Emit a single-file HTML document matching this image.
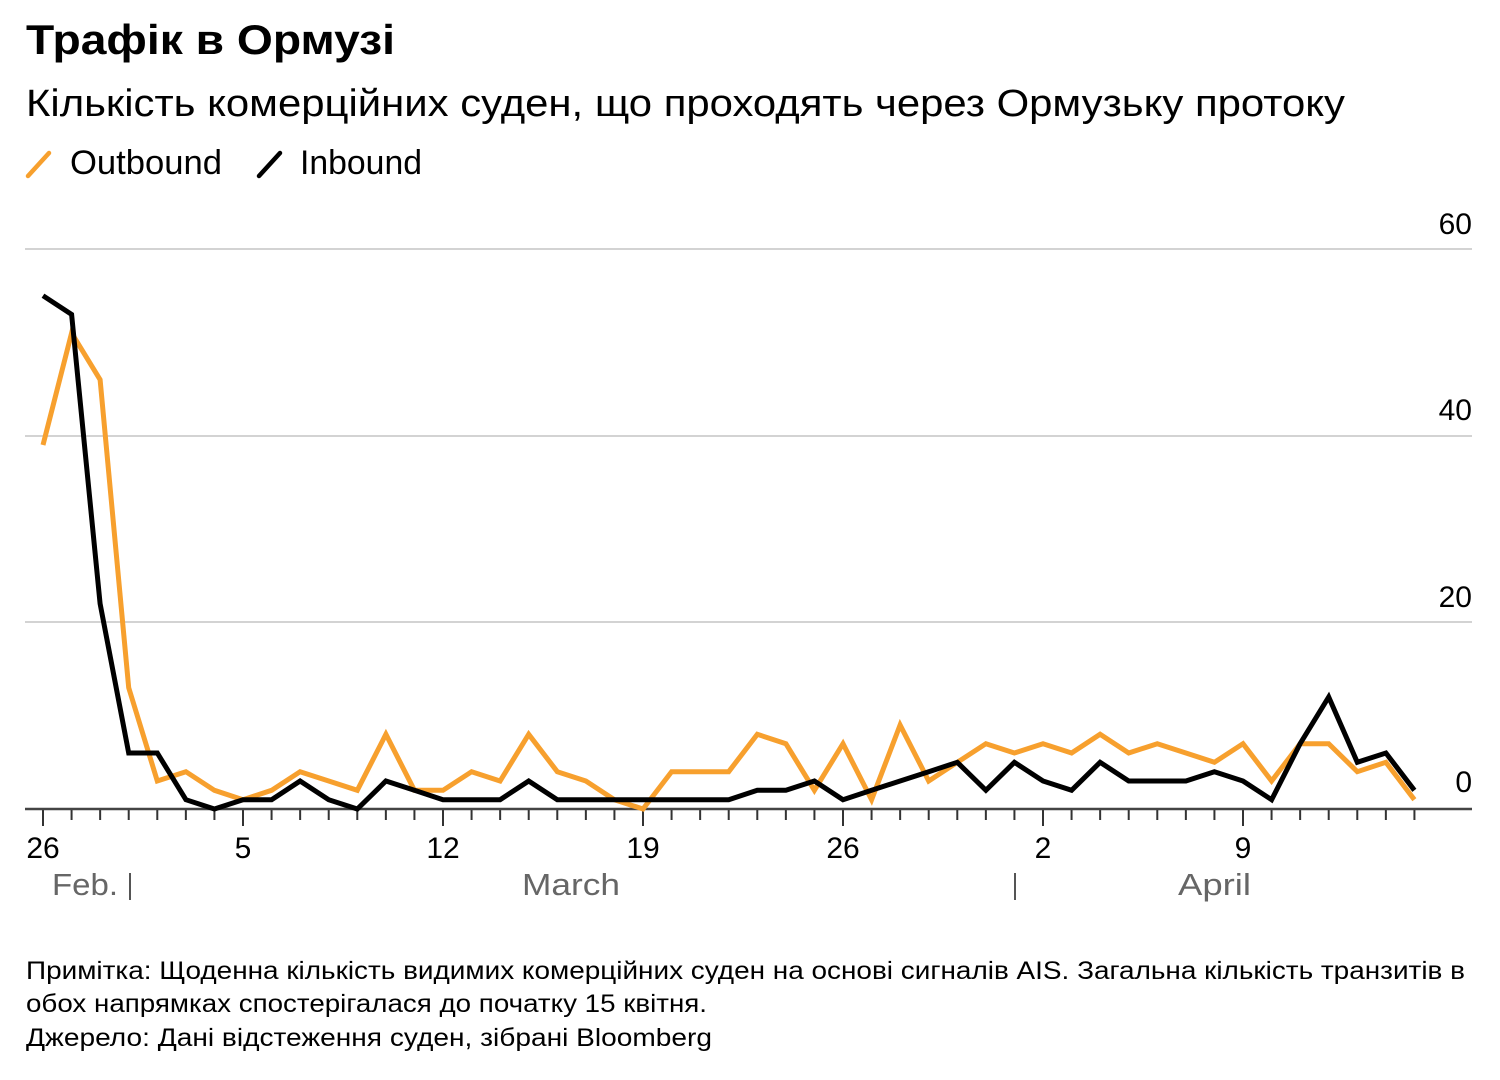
<!DOCTYPE html>
<html><head><meta charset="utf-8"><style>
body{margin:0;background:#fff;width:1500px;height:1075px;overflow:hidden;font-family:"Liberation Sans","DejaVu Sans",sans-serif;}
svg text{font-family:"Liberation Sans","DejaVu Sans",sans-serif;}
</style></head><body>
<svg id="s" width="1500" height="1075" xmlns="http://www.w3.org/2000/svg">
<text x="26" y="54" font-size="42" font-weight="bold" fill="#000" textLength="369" lengthAdjust="spacingAndGlyphs">Трафік в Ормузі</text>
<text x="26" y="116" font-size="38" fill="#000" textLength="1319" lengthAdjust="spacingAndGlyphs">Кількість комерційних суден, що проходять через Ормузьку протоку</text>
<line x1="28" y1="176" x2="49" y2="153" stroke="#f7a02e" stroke-width="4.5" stroke-linecap="round"/>
<text x="70" y="174" font-size="34" fill="#000" textLength="152" lengthAdjust="spacingAndGlyphs">Outbound</text>
<line x1="259" y1="176" x2="280" y2="153" stroke="#000" stroke-width="4.5" stroke-linecap="round"/>
<text x="300" y="174" font-size="34" fill="#000" textLength="122" lengthAdjust="spacingAndGlyphs">Inbound</text>
<g stroke="#d3d3d3" stroke-width="2">
<line x1="25" y1="249" x2="1472" y2="249"/>
<line x1="25" y1="436" x2="1472" y2="436"/>
<line x1="25" y1="622" x2="1472" y2="622"/>
</g>
<g font-size="30" fill="#000" text-anchor="end">
<text x="1472" y="234">60</text>
<text x="1472" y="420">40</text>
<text x="1472" y="607">20</text>
<text x="1472" y="792">0</text>
</g>
<g id="ticks" stroke="#333" stroke-width="2"></g>
<line x1="25" y1="809" x2="1472" y2="809" stroke="#444" stroke-width="2.5"/>
<g font-size="30" fill="#000" text-anchor="middle">
<text x="43" y="858">26</text>
<text x="243" y="858">5</text>
<text x="443" y="858">12</text>
<text x="643" y="858">19</text>
<text x="843" y="858">26</text>
<text x="1043" y="858">2</text>
<text x="1243" y="858">9</text>
</g>
<g font-size="31" fill="#666">
<text x="52" y="895" textLength="66" lengthAdjust="spacingAndGlyphs">Feb.</text>
<text x="522" y="895" textLength="98" lengthAdjust="spacingAndGlyphs">March</text>
<text x="1178" y="895" textLength="73" lengthAdjust="spacingAndGlyphs">April</text>
</g>
<line x1="130" y1="873" x2="130" y2="900" stroke="#555" stroke-width="2"/>
<line x1="1015" y1="873" x2="1015" y2="900" stroke="#555" stroke-width="2"/>
<polyline id="ob" fill="none" stroke="#f7a02e" stroke-width="5" stroke-linejoin="miter"/>
<polyline id="ib" fill="none" stroke="#000" stroke-width="5" stroke-linejoin="miter"/>
<g font-size="25" fill="#000">
<text x="26" y="979" textLength="1439" lengthAdjust="spacingAndGlyphs">Примітка: Щоденна кількість видимих комерційних суден на основі сигналів AIS. Загальна кількість транзитів в</text>
<text x="26" y="1012" textLength="681" lengthAdjust="spacingAndGlyphs">обох напрямках спостерігалася до початку 15 квітня.</text>
<text x="26" y="1046" textLength="686" lengthAdjust="spacingAndGlyphs">Джерело: Дані відстеження суден, зібрані Bloomberg</text>
</g>
</svg>
<script>
var o=[39,51,46,13,3,4,2,1,2,4,3,2,8,2,2,4,3,8,4,3,1,0,4,4,4,8,7,2,7,1,9,3,5,7,6,7,6,8,6,7,6,5,7,3,7,7,4,5,1];
var b=[55,53,22,6,6,1,0,1,1,3,1,0,3,2,1,1,1,3,1,1,1,1,1,1,1,2,2,3,1,2,3,4,5,2,5,3,2,5,3,3,3,4,3,1,7,12,5,6,2];
function X(i){return 43+28.5714*i;}
function Y(v){return 809-9.333*v;}
function pts(a){return a.map(function(v,i){return X(i).toFixed(1)+","+Y(v).toFixed(1)}).join(" ");}
document.getElementById("ob").setAttribute("points",pts(o));
document.getElementById("ib").setAttribute("points",pts(b));
var g=document.getElementById("ticks"),h="";
var big={0:1,7:1,14:1,21:1,28:1,35:1,42:1};
for(var i=0;i<=48;i++){var x=X(i);h+='<line x1="'+x+'" y1="809" x2="'+x+'" y2="'+(big[i]?826:820)+'"/>';}
g.innerHTML=h;
</script>
</body></html>
